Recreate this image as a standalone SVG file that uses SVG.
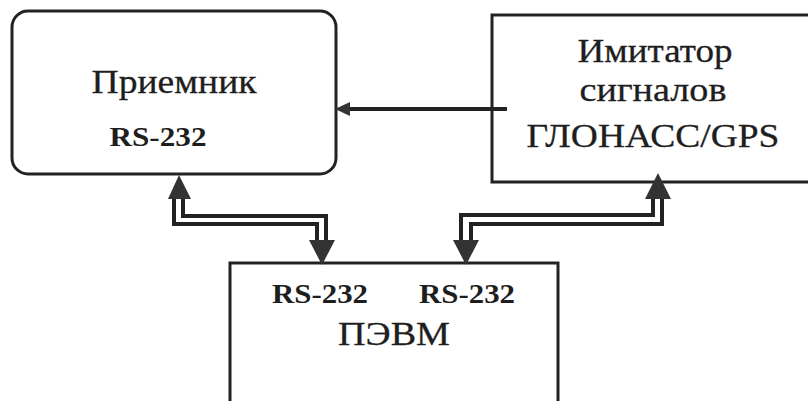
<svg xmlns="http://www.w3.org/2000/svg" width="808" height="401" viewBox="0 0 808 401">
<defs>
<style>
.box{fill:#fff;stroke:#222;stroke-width:3}
.t{font-family:"Liberation Serif","Times New Roman",serif;font-size:34px;fill:#1e1e1e;stroke:#1e1e1e;stroke-width:0.3;text-anchor:middle}
.b{font-family:"Liberation Serif","Times New Roman",serif;font-size:28px;font-weight:bold;fill:#1e1e1e;text-anchor:middle}
.ln{fill:none;stroke:#222;stroke-width:4;stroke-linejoin:miter}
.ah{fill:#333;stroke:none}
</style>
</defs>
<rect width="808" height="401" fill="#fff"/>
<g id="receiver">
<rect class="box" x="12" y="11" width="324" height="163" rx="16" ry="16"/>
<text class="t" x="174" y="93" textLength="165" lengthAdjust="spacingAndGlyphs">Приемник</text>
<text class="b" x="158" y="146" textLength="97" lengthAdjust="spacingAndGlyphs">RS-232</text>
</g>
<g id="imitator">
<rect class="box" x="492" y="15" width="330" height="167"/>
<text class="t" x="655" y="62" textLength="155" lengthAdjust="spacingAndGlyphs">Имитатор</text>
<text class="t" x="653" y="101" textLength="147" lengthAdjust="spacingAndGlyphs">сигналов</text>
<text class="t" x="653" y="147" textLength="253" lengthAdjust="spacingAndGlyphs">ГЛОНАСС/GPS</text>
</g>
<g id="pc">
<rect class="box" x="230" y="263" width="328" height="160"/>
<text class="b" x="320" y="303" textLength="96" lengthAdjust="spacingAndGlyphs">RS-232</text>
<text class="b" x="467" y="303" textLength="96" lengthAdjust="spacingAndGlyphs">RS-232</text>
<text class="t" x="394" y="345" textLength="112" lengthAdjust="spacingAndGlyphs">ПЭВМ</text>
</g>
<g id="connectors">
<line class="ln" x1="507" y1="109" x2="346" y2="109"/>
<polygon class="ah" points="335,109 350,102 350,116"/>
<polyline class="ln" points="174,196 174,224 317,224 317,242"/>
<polyline class="ln" points="183,196 183,216 326,216 326,242"/>
<polygon class="ah" points="179,175 168,199 191,199"/>
<polygon class="ah" points="322,265 309,240 335,240"/>
<polyline class="ln" points="461,242 461,215 653,215 653,196"/>
<polyline class="ln" points="471,242 471,224 662,224 662,196"/>
<polygon class="ah" points="466,265 453,240 479,240"/>
<polygon class="ah" points="658,173 645,199 671,199"/>
</g>
</svg>
